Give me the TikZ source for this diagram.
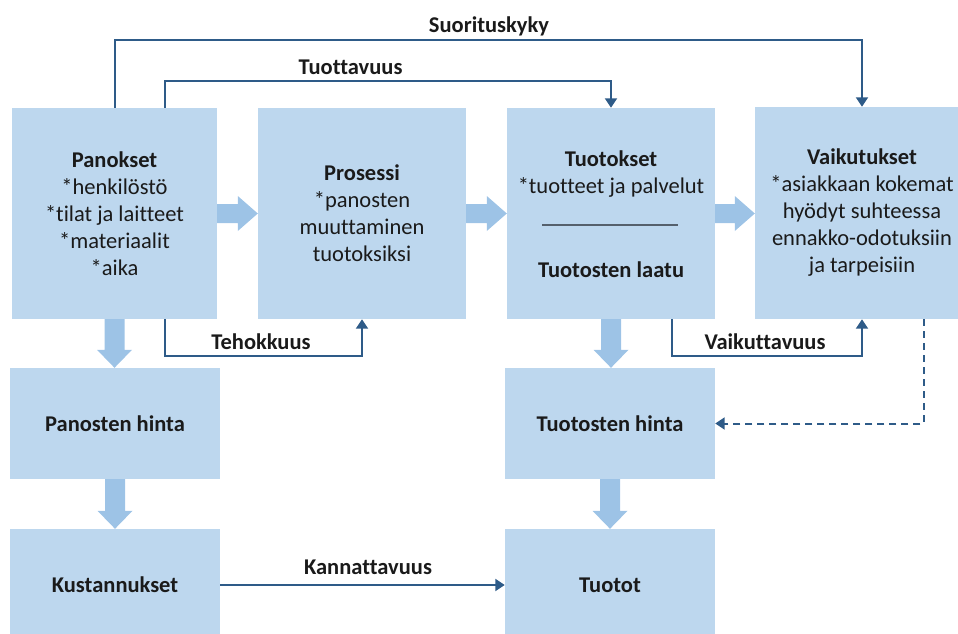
\documentclass[tikz,border=0pt]{standalone}
\usepackage{fontspec}
\setmainfont{Carlito}[Ligatures=NoCommon]
\usetikzlibrary{arrows.meta,calc}
\definecolor{boxfill}{HTML}{BDD7EE}
\definecolor{blockfill}{HTML}{9DC3E6}
\definecolor{linkblue}{HTML}{2E5B88}
\definecolor{inktext}{HTML}{1A1A1A}
\definecolor{rulegray}{HTML}{55606C}
\tikzset{
  box/.style={fill=boxfill, draw=none, inner sep=0pt, align=center,
    text=inktext, font=\fontsize{22.5}{27}\selectfont},
  txt/.style={inner sep=0pt, align=center, text=inktext,
    font=\fontsize{22.5}{27}\selectfont},
  lbl/.style={inner sep=0pt, text=inktext,
    font=\bfseries\fontsize{22.5}{27}\selectfont},
  link/.style={draw=linkblue, line width=2pt,
    -{Triangle[length=9.5pt,width=12pt]}},
  dashlink/.style={link, dash pattern=on 7pt off 5pt},
}
% wide filled arrow between two boxes, pointing right
\newcommand\blockright[2]{%
  \fill[blockfill] let \p1=(#1), \p2=(#2) in
    (\x1,\y1+9.5pt) -- (\x2-20pt,\y1+9.5pt) -- (\x2-20pt,\y1+17.5pt) --
    (\x2,\y1) -- (\x2-20pt,\y1-17.5pt) -- (\x2-20pt,\y1-9.5pt) --
    (\x1,\y1-9.5pt) -- cycle;}
% wide filled arrow between two boxes, pointing down
\newcommand\blockdown[2]{%
  \fill[blockfill] let \p1=(#1), \p2=(#2) in
    (\x1-10pt,\y1) -- (\x1-10pt,\y2+18pt) -- (\x1-17.5pt,\y2+18pt) --
    (\x1,\y2) -- (\x1+17.5pt,\y2+18pt) -- (\x1+10pt,\y2+18pt) --
    (\x1+10pt,\y1) -- cycle;}
\begin{document}
\begin{tikzpicture}[x=1pt, y=-1pt]
\useasboundingbox (0,0) rectangle (958,634);

% boxes
\node[box, minimum width=205pt, minimum height=211pt] (pan) at (114.5,213.5)
  {\textbf{Panokset}\\{*}henkilöstö\\{*}tilat ja laitteet\\{*}materiaalit\\{*}aika};
\node[box, minimum width=208pt, minimum height=211pt] (pro) at (362,213.5)
  {\textbf{Prosessi}\\{*}panosten\\muuttaminen\\tuotoksiksi};
\node[box, minimum width=208pt, minimum height=211pt] (tuo) at (611,213.5) {};
\node[box, minimum width=214pt, minimum height=212pt] (vai) at (862,213)
  {\textbf{Vaikutukset}\\{*}asiakkaan kokemat\\hyödyt suhteessa\\ennakko-odotuksiin\\ja tarpeisiin};
\node[box, minimum width=210pt, minimum height=111pt] (phi) at (115,423.5)
  {\textbf{Panosten hinta}};
\node[box, minimum width=210pt, minimum height=112pt] (kus) at (115,585)
  {\textbf{Kustannukset}};
\node[box, minimum width=210pt, minimum height=111pt] (tth) at (610,423.5)
  {\textbf{Tuotosten hinta}};
\node[box, minimum width=210pt, minimum height=112pt] (tot) at (610,585)
  {\textbf{Tuotot}};

% contents of the outputs box
\node[txt] (tuoA) at (611,174) {\textbf{Tuotokset}\\{*}tuotteet ja palvelut};
\node[txt] (tuoB) at (611,270) {\textbf{Tuotosten laatu}};
\draw[rulegray, line width=2.5pt] (542,225) -- (678,225);

% flow arrows
\blockright{pan.east}{pro.west}
\blockright{pro.east}{tuo.west}
\blockright{tuo.east}{vai.west}
\blockdown{pan.south}{phi.north}
\blockdown{phi.south}{kus.north}
\blockdown{tuo.south}{tth.north}
\blockdown{tth.south}{tot.north}

% measures
\draw[link] (pan.north) -- ++(0,-68) -| (vai.north);
\draw[link] ($(pan.north)+(50,0)$) -- ++(0,-27) -| (tuo.north);
\draw[link] ($(pan.south)+(50,0)$) -- ++(0,37) -| (pro.south);
\draw[link] ($(tuo.south)+(61,0)$) -- ++(0,37) -| (vai.south);
\draw[dashlink] ($(vai.south)+(62,0)$) |- (tth.east);
\draw[link] (kus.east) -- (tot.west);

\node[lbl] (lsuo) at (489,26) {Suorituskyky};
\node[lbl] (ltuo) at (350.5,67) {Tuottavuus};
\node[lbl] (lteh) at (261,342) {Tehokkuus};
\node[lbl] (lvai) at (765,342) {Vaikuttavuus};
\node[lbl] (lkan) at (368,567) {Kannattavuus};
\end{tikzpicture}
\end{document}
